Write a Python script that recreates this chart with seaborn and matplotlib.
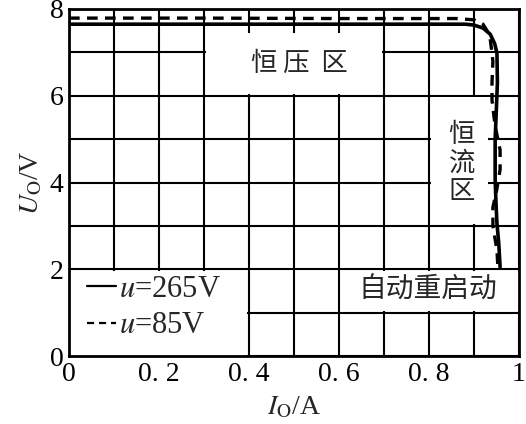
import matplotlib.pyplot as plt
import numpy as np
import seaborn as sns
from matplotlib.patches import Rectangle

# output current I_O (A) vs output voltage U_O (V), two input voltages
i_265 = [0.0, 0.3, 0.6, 0.88, 0.90, 0.92, 0.936, 0.946, 0.951, 0.952, 0.949,
         0.947, 0.947, 0.949, 0.951, 0.955, 0.958]
u_265 = [7.65, 7.65, 7.65, 7.65, 7.63, 7.56, 7.42, 7.2, 6.98, 6.3, 5.5,
         5.0, 4.06, 3.5, 3.06, 2.6, 2.05]

i_85 = [0.0, 0.3, 0.6, 0.86, 0.90, 0.92, 0.935, 0.942, 0.940, 0.940, 0.947,
        0.958, 0.958, 0.950, 0.942, 0.942, 0.951, 0.953]
u_85 = [7.79, 7.79, 7.78, 7.78, 7.75, 7.65, 7.4, 6.8, 6.3, 5.9, 5.3,
        4.75, 4.3, 3.8, 3.43, 3.0, 2.44, 2.05]

series_labels = ["$u$=265V", "$u$=85V"]
x_ticks = [0, 0.2, 0.4, 0.6, 0.8, 1.0]
x_tick_labels = ["0", "0. 2", "0. 4", "0. 6", "0. 8", "1"]
y_ticks = [0, 2, 4, 6, 8]
y_tick_labels = ["0", "2", "4", "6", "8"]

sns.set_style("white")
plt.rcParams["font.family"] = ["Liberation Serif", "DejaVu Serif"]
plt.rcParams["mathtext.fontset"] = "stix"
cjk = ["Noto Sans CJK SC", "DejaVu Sans"]

fig = plt.figure(figsize=(5.26, 4.24), dpi=100)
ax = fig.add_axes([69 / 526, 1 - 356 / 424, 450 / 526, 347 / 424])

sns.lineplot(x=i_265, y=u_265, sort=False, estimator=None, color="black",
             lw=2.6, ax=ax, zorder=3, label=series_labels[0])
sns.lineplot(x=i_85, y=u_85, sort=False, estimator=None, color="black",
             lw=2.4, linestyle=(0, (3.2, 2.2)), ax=ax, zorder=3,
             label=series_labels[1])

ax.set_xlim(0, 1)
ax.set_ylim(0, 8)
ax.set_xticks(x_ticks)
ax.set_xticklabels(x_tick_labels)
ax.set_yticks(y_ticks)
ax.set_yticklabels(y_tick_labels)
ax.set_xticks(np.arange(0, 1.01, 0.1), minor=True)
ax.set_yticks(np.arange(0, 8.1, 1), minor=True)
ax.tick_params(which="both", length=0, labelsize=20, colors="black")
ax.tick_params(axis="x", pad=4)
ax.tick_params(axis="y", pad=4)
ax.grid(which="both", color="black", lw=1.5)
ax.set_axisbelow(True)
for s in ax.spines.values():
    s.set_color("black")
    s.set_linewidth(2)

# white label boxes that cut the grid, as in the printed figure
boxes = [
    (0.304, 6.04, 0.392, 1.41),   # constant voltage
    (0.804, 3.04, 0.126, 2.92),   # constant current
    (0.62, 1.04, 0.38, 0.92),     # auto restart
    (0.0, 0.0, 0.396, 1.96),      # legend
]
for x0, y0, w, h in boxes:
    ax.add_patch(Rectangle((x0, y0), w, h, facecolor="white",
                           edgecolor="none", zorder=1))

ax.text(0.513, 6.75, "恒 压  区", family=cjk, fontsize=19,
        ha="center", va="center", zorder=4)
ax.text(0.873, 4.45, "恒\n流\n区", family=cjk, fontsize=19,
        ha="center", va="center", linespacing=1.05, zorder=4)
ax.text(0.797, 1.52, "自动重启动", family=cjk, fontsize=20,
        ha="center", va="center", zorder=4)

leg = ax.legend(loc="lower left", bbox_to_anchor=(0.04, 0.045),
                frameon=False, fontsize=22, handlelength=0.95,
                handletextpad=0.1, labelspacing=0.25, borderpad=0,
                borderaxespad=0)
for h in leg.get_lines():
    h.set_linewidth(1.6)

ax.set_xlabel(r"$I_{\mathrm{O}}$/A", fontsize=20, labelpad=6)
ax.set_ylabel(r"$U_{\mathrm{O}}$/V", fontsize=20, labelpad=4)

fig.savefig("out.png", dpi=100)
